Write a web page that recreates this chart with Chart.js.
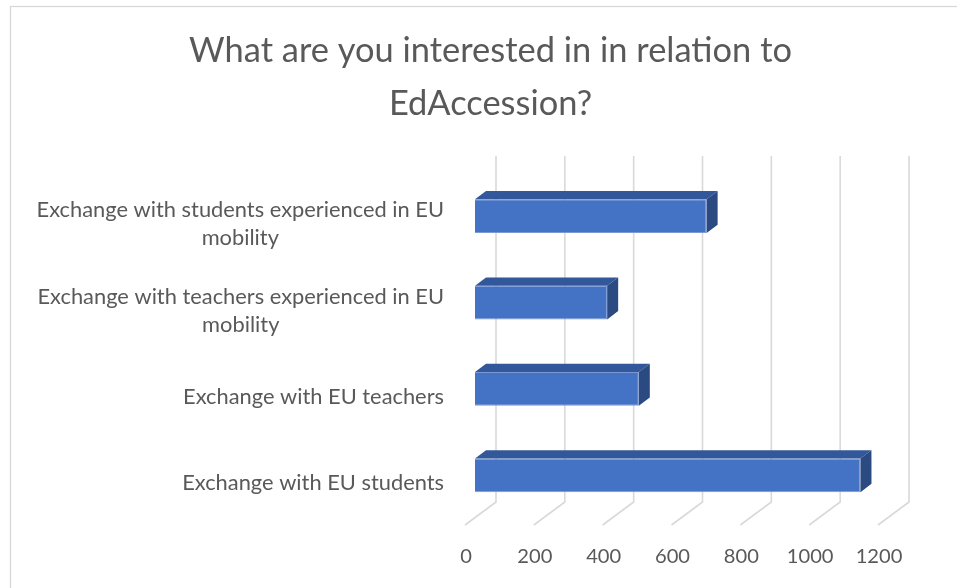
<!DOCTYPE html>
<html><head><meta charset="utf-8">
<script src="https://cdn.jsdelivr.net/npm/chart.js@4"></script>
<style>html,body{margin:0;padding:0;background:#fff;}#wrap{position:relative;width:957px;height:588px;}</style>
</head><body><div id="wrap"><canvas id="c" width="957" height="588"></canvas></div>
<script>
const titleLines = ["What are you interested in in relation to", "EdAccession?"];
const categories = [
  ["Exchange with students experienced in EU", "mobility"],
  ["Exchange with teachers experienced in EU", "mobility"],
  ["Exchange with EU teachers"],
  ["Exchange with EU students"]
];
const values = [673, 384, 476, 1120];
const xMin = 0, xMax = 1200, xStep = 200;

const FONT = "Lato, 'Open Sans', sans-serif";
const TEXT = '#595959';
const GRID = '#d9d9d9';
const mctx = document.createElement('canvas').getContext('2d');
function fitSize(text, width){ mctx.font = '100px ' + FONT; return 100 * width / mctx.measureText(text).width; }
const labelSize = fitSize("Exchange with EU teachers", 261);
const titleSize = fitSize(titleLines[0], 603);
const tickSize = fitSize("1200", 46.7);

const DX = 11, DY = 8.3;

const threeD = {
  id: 'threeD',
  beforeDraw(chart){
    const c = chart.ctx;
    c.save();
    c.strokeStyle = GRID; c.lineWidth = 1.3;
    c.strokeRect(10.5, 6.5, 1200, 1200);
    c.fillStyle = TEXT;
    c.font = titleSize + 'px ' + FONT;
    c.textAlign = 'center'; c.textBaseline = 'alphabetic';
    c.fillText(titleLines[0], 490.5, 62);
    c.fillText(titleLines[1], 490.5, 115);
    c.restore();
  },
  beforeDatasetsDraw(chart){
    const c = chart.ctx, a = chart.chartArea, xs = chart.scales.x;
    c.save();
    c.strokeStyle = GRID; c.lineWidth = 1.6;
    xs.ticks.forEach(t => {
      const x = xs.getPixelForValue(t.value);
      const bx = x + 21;
      c.beginPath();
      c.moveTo(bx, a.top - 17);
      c.lineTo(bx, a.bottom - 16.5);
      c.lineTo(x - 10, a.bottom + 6.5);
      c.stroke();
    });
    c.restore();
  },
  afterDatasetsDraw(chart){
    const c = chart.ctx;
    const meta = chart.getDatasetMeta(0);
    c.save();
    meta.data.forEach(el => {
      const top = el.y - el.height / 2, bot = el.y + el.height / 2;
      c.fillStyle = '#32589b';
      c.beginPath();
      c.moveTo(el.base, top); c.lineTo(el.base + DX, top - DY);
      c.lineTo(el.x + DX, top - DY); c.lineTo(el.x, top); c.closePath(); c.fill();
      c.fillStyle = '#2b4a82';
      c.beginPath();
      c.moveTo(el.x, top); c.lineTo(el.x + DX, top - DY);
      c.lineTo(el.x + DX, bot - DY); c.lineTo(el.x, bot); c.closePath(); c.fill();
    });
    c.restore();
  },
  afterDraw(chart){
    const c = chart.ctx, ys = chart.scales.y;
    c.save();
    c.fillStyle = TEXT;
    c.font = labelSize + 'px ' + FONT;
    c.textAlign = 'center'; c.textBaseline = 'alphabetic';
    categories.forEach((lines, i) => {
      const cy = ys.getPixelForValue(i);
      const maxW = Math.max(...lines.map(l => c.measureText(l).width));
      const cx = 444 - maxW / 2;
      const n = lines.length;
      lines.forEach((l, k) => c.fillText(l, cx, cy + 15 + (k - (n - 1) / 2) * 28));
    });
    c.restore();
  }
};

new Chart(document.getElementById('c'), {
  type: 'bar',
  data: {
    labels: categories,
    datasets: [{
      data: values,
      backgroundColor: '#4472C4',
      borderColor: '#7a98d4',
      borderWidth: 1,
      barPercentage: 0.39,
      categoryPercentage: 1
    }]
  },
  options: {
    indexAxis: 'y',
    responsive: false,
    animation: false,
    layout: { padding: { left: 475, right: 69, top: 173, bottom: 0 } },
    plugins: { legend: { display: false }, tooltip: { enabled: false }, title: { display: false } },
    scales: {
      x: {
        min: xMin, max: xMax,
        ticks: { stepSize: xStep, color: TEXT, font: { family: FONT, size: tickSize }, padding: 26, labelOffset: -9, maxRotation: 0, autoSkip: false, callback: v => String(v) },
        grid: { display: false, drawTicks: false },
        border: { display: false },
        afterFit(s){ s.height = 69.5; }
      },
      y: { display: false }
    }
  },
  plugins: [threeD]
});
</script></body></html>
